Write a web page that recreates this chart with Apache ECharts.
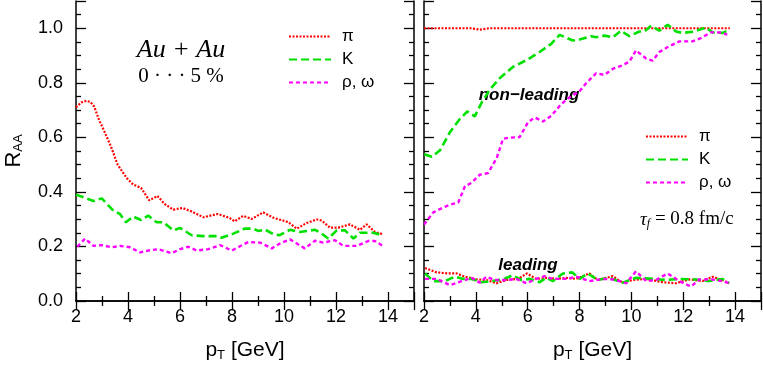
<html>
<head>
<meta http-equiv="Content-Type" content="text/html; charset=utf-8"/>
<title>RAA</title>
<style type="text/css">
    body, #chart { margin: 0; padding: 0; border: 0; }
    #chart { width: 763px; height: 367px; background: #fff; }
</style>
<script type="text/javascript" src="https://cdn.jsdelivr.net/npm/echarts@6/dist/echarts.min.js"></script>
</head>
<body>
<div id="chart"></div>
<script type="text/javascript">
// [pT, R_AA]
var leftPi = [[2.0,0.71],[2.2,0.728],[2.4,0.734],[2.55,0.73],[2.7,0.713],[2.9,0.661],[3.1,0.62],[3.35,0.565],[3.6,0.5],[3.95,0.451],[4.2,0.427],[4.5,0.415],[4.82,0.369],[5.13,0.385],[5.42,0.355],[5.74,0.335],[6.1,0.341],[6.45,0.328],[6.9,0.307],[7.45,0.319],[7.9,0.305],[8.1,0.292],[8.43,0.312],[8.76,0.301],[9.2,0.325],[9.6,0.305],[10.17,0.289],[10.49,0.265],[10.87,0.286],[11.26,0.299],[11.45,0.295],[11.77,0.269],[12.09,0.269],[12.54,0.281],[12.92,0.261],[13.18,0.281],[13.5,0.253],[13.8,0.245]];
var leftK = [[2.0,0.39],[2.35,0.378],[2.67,0.367],[2.99,0.376],[3.44,0.331],[3.69,0.319],[3.92,0.289],[4.2,0.31],[4.5,0.297],[4.78,0.313],[5.1,0.289],[5.36,0.289],[5.74,0.259],[6.0,0.268],[6.45,0.241],[6.9,0.238],[7.41,0.238],[7.6,0.232],[8.05,0.247],[8.5,0.266],[8.82,0.265],[9.01,0.257],[9.27,0.262],[9.59,0.245],[9.82,0.241],[10.23,0.261],[10.6,0.253],[11.2,0.261],[11.45,0.247],[11.7,0.229],[12.03,0.259],[12.35,0.259],[12.67,0.229],[12.92,0.25],[13.43,0.25],[13.8,0.241]];
var leftRho = [[2.05,0.199],[2.35,0.229],[2.67,0.202],[2.99,0.205],[3.37,0.197],[3.69,0.202],[4.08,0.197],[4.46,0.178],[4.78,0.185],[5.17,0.19],[5.68,0.175],[6.0,0.19],[6.32,0.199],[6.64,0.185],[7.09,0.19],[7.54,0.205],[7.99,0.185],[8.62,0.216],[9.08,0.214],[9.53,0.193],[9.85,0.211],[10.23,0.226],[10.8,0.193],[11.19,0.221],[11.51,0.214],[11.96,0.223],[12.28,0.202],[12.8,0.202],[13.24,0.22],[13.5,0.22],[13.8,0.202]];

var nlPi = [[2.0,1.0],[3.0,1.0],[3.8,1.0],[4.15,0.995],[4.5,1.0],[6.0,1.0],[8.0,1.0],[10.0,1.0],[12.0,1.0],[13.8,1.0]];
var nlK = [[2.01,0.538],[2.3,0.529],[2.62,0.553],[3.0,0.619],[3.38,0.667],[3.67,0.695],[3.96,0.677],[4.22,0.727],[4.54,0.775],[4.92,0.817],[5.44,0.859],[5.95,0.883],[6.46,0.913],[6.91,0.943],[7.23,0.976],[7.74,0.955],[8.0,0.959],[8.45,0.971],[8.64,0.967],[8.96,0.973],[9.28,0.967],[9.6,0.991],[9.92,0.971],[10.31,0.988],[10.5,0.988],[10.76,1.009],[11.08,0.991],[11.4,1.013],[11.72,0.988],[11.97,0.983],[12.42,0.988],[12.87,1.003],[13.13,0.985],[13.52,0.983],[13.7,0.991]];
var nlRho = [[2.0,0.28],[2.36,0.325],[2.74,0.343],[3.07,0.355],[3.32,0.361],[3.58,0.421],[3.83,0.433],[4.15,0.463],[4.47,0.469],[4.8,0.523],[5.05,0.595],[5.31,0.599],[5.69,0.601],[6.01,0.655],[6.27,0.673],[6.59,0.658],[6.91,0.679],[7.23,0.715],[7.49,0.739],[7.75,0.755],[8.0,0.769],[8.26,0.799],[8.64,0.835],[8.96,0.829],[9.28,0.851],[9.6,0.862],[9.92,0.877],[10.18,0.919],[10.57,0.889],[10.82,0.881],[11.08,0.913],[11.4,0.931],[11.85,0.952],[12.36,0.952],[12.68,0.964],[13.07,0.985],[13.38,0.985],[13.7,0.977]];

var ldPi = [[2.04,0.121],[2.49,0.105],[2.94,0.101],[3.26,0.101],[3.58,0.089],[4.03,0.079],[4.41,0.077],[4.8,0.065],[5.18,0.077],[5.63,0.081],[5.97,0.101],[6.33,0.081],[6.72,0.085],[7.1,0.081],[7.49,0.085],[7.87,0.081],[8.38,0.101],[8.7,0.077],[9.28,0.091],[9.67,0.067],[10.05,0.077],[10.57,0.081],[11.2,0.069],[11.72,0.065],[12.23,0.079],[12.74,0.073],[13.13,0.089],[13.51,0.077],[13.77,0.065]];
var ldK = [[2.04,0.101],[2.36,0.073],[2.81,0.073],[3.19,0.089],[3.51,0.081],[3.83,0.081],[4.22,0.069],[4.6,0.073],[5.05,0.079],[5.41,0.094],[5.76,0.077],[6.08,0.081],[6.46,0.069],[6.72,0.085],[6.97,0.073],[7.36,0.101],[7.72,0.105],[8.0,0.081],[8.32,0.101],[8.7,0.077],[9.15,0.085],[9.67,0.067],[10.18,0.085],[10.82,0.081],[11.33,0.077],[11.85,0.081],[12.49,0.079],[13.0,0.073],[13.51,0.081],[13.77,0.065]];
var ldRho = [[2.04,0.081],[2.49,0.081],[3.0,0.058],[3.45,0.073],[3.83,0.085],[4.15,0.067],[4.41,0.089],[4.73,0.077],[5.18,0.077],[5.56,0.081],[5.95,0.065],[6.33,0.081],[6.65,0.091],[6.97,0.081],[7.49,0.081],[7.87,0.089],[8.38,0.073],[8.9,0.081],[9.35,0.079],[9.8,0.065],[10.18,0.109],[10.57,0.073],[10.95,0.077],[11.4,0.101],[11.85,0.073],[12.3,0.053],[12.62,0.079],[13.13,0.079],[13.51,0.073],[13.77,0.065]];

var names = ['π', 'K', 'ρ, ω'];
var colors = ['#ff0000', '#00e000', '#ff00ff'];
var dashes = [[2, 1.5], [8, 4], [4, 3]];
var widths = [2.2, 2.6, 2.4];

var font = "'Liberation Sans', Arial, sans-serif";
var serif = "'Liberation Serif', 'DejaVu Serif', serif";

function xAxes(grid) {
    return [{
        gridIndex: grid, type: 'value', min: 2, max: 15, interval: 2, position: 'bottom',
        name: '{a|p}{s|T}{a| [GeV]}', nameLocation: 'middle', nameGap: 38,
        nameTextStyle: {rich: {
            a: {fontFamily: font, fontSize: 21, color: '#000'},
            s: {fontFamily: font, fontSize: 13, color: '#000', padding: [10, 0, 0, 0]}
        }},
        axisLine: {lineStyle: {color: '#000', width: 1.5}},
        axisTick: {inside: true, length: 9, lineStyle: {color: '#000', width: 1.3}},
        minorTick: {show: true, splitNumber: 2, length: 5, lineStyle: {color: '#000', width: 1.3}},
        axisLabel: {fontFamily: font, fontSize: 18, color: '#000', margin: 7, showMaxLabel: false},
        splitLine: {show: false}
    }, {
        gridIndex: grid, type: 'value', min: 2, max: 15, interval: 2, position: 'top',
        axisLine: {lineStyle: {color: '#000', width: 1.5}},
        axisTick: {inside: true, length: 9, lineStyle: {color: '#000', width: 1.3}},
        minorTick: {show: true, splitNumber: 2, length: 5, lineStyle: {color: '#000', width: 1.3}},
        axisLabel: {show: false}, splitLine: {show: false}
    }];
}
function yAxes(grid, labels) {
    var a = {
        gridIndex: grid, type: 'value', min: 0, max: 1.1, interval: 0.2, position: 'left',
        axisLine: {lineStyle: {color: '#000', width: 1.5}},
        axisTick: {inside: true, length: 10, lineStyle: {color: '#000', width: 1.3}},
        minorTick: {show: true, splitNumber: 4, length: 5, lineStyle: {color: '#000', width: 1.3}},
        axisLabel: {show: labels, fontFamily: font, fontSize: 18, color: '#000', margin: 13, showMaxLabel: false,
            formatter: function (v) { return v.toFixed(1); }},
        splitLine: {show: false}
    };
    if (labels) {
        a.name = '{a|R}{s|AA}';
        a.nameLocation = 'middle';
        a.nameGap = 51;
        a.nameTextStyle = {rich: {
            a: {fontFamily: font, fontSize: 22, color: '#000'},
            s: {fontFamily: font, fontSize: 13, color: '#000', padding: [10, 0, 0, 0]}
        }};
    }
    var b = {
        gridIndex: grid, type: 'value', min: 0, max: 1.1, interval: 0.2, position: 'right',
        axisLine: {lineStyle: {color: '#000', width: 1.5}},
        axisTick: {inside: true, length: 10, lineStyle: {color: '#000', width: 1.3}},
        minorTick: {show: true, splitNumber: 4, length: 5, lineStyle: {color: '#000', width: 1.3}},
        axisLabel: {show: false}, splitLine: {show: false}
    };
    return [a, b];
}

function line(name, i, data, xi, yi) {
    return {
        name: name, type: 'line', data: data, xAxisIndex: xi, yAxisIndex: yi,
        showSymbol: false, symbol: 'none', smooth: false, silent: true,
        lineStyle: {color: colors[i], width: widths[i], type: dashes[i]},
        itemStyle: {color: colors[i]}
    };
}

var series = [
    line(names[0], 0, leftPi, 0, 0),
    line(names[1], 1, leftK, 0, 0),
    line(names[2], 2, leftRho, 0, 0),
    line(names[0], 0, nlPi, 2, 2),
    line(names[1], 1, nlK, 2, 2),
    line(names[2], 2, nlRho, 2, 2),
    line(names[0], 0, ldPi, 2, 2),
    line(names[1], 1, ldK, 2, 2),
    line(names[2], 2, ldRho, 2, 2)
];

var legendBase = {
    orient: 'vertical', data: names, itemWidth: 42, itemHeight: 14, itemGap: 6,
    selectedMode: false,
    itemStyle: {opacity: 0},
    textStyle: {fontFamily: font, fontSize: 17, color: '#000', padding: [0, 0, 0, 6]}
};

var chart = echarts.init(document.getElementById('chart'), null, {renderer: 'canvas'});
chart.setOption({
    animation: false,
    backgroundColor: '#fff',
    grid: [
        {left: 76, right: 349, top: 1, bottom: 62},
        {left: 424, right: 2, top: 1, bottom: 62}
    ],
    xAxis: xAxes(0).concat(xAxes(1)),
    yAxis: yAxes(0, true).concat(yAxes(1, false)),
    legend: [
        Object.assign({left: 283, top: 23}, legendBase),
        Object.assign({left: 640, top: 123}, legendBase)
    ],
    series: series,
    graphic: [
        {type: 'text', x: 181, y: 50, style: {text: 'Au + Au', font: 'italic 26px ' + serif, fill: '#000', align: 'center', verticalAlign: 'middle'}},
        {type: 'text', x: 181, y: 76, style: {text: '0 · · · 5 %', font: '21px ' + serif, fill: '#000', align: 'center', verticalAlign: 'middle'}},
        {type: 'text', x: 529, y: 95, style: {text: 'non−leading', font: 'italic bold 17px ' + font, fill: '#000', align: 'center', verticalAlign: 'middle'}},
        {type: 'text', x: 528, y: 265, style: {text: 'leading', font: 'italic bold 17px ' + font, fill: '#000', align: 'center', verticalAlign: 'middle'}},
        {type: 'text', x: 640, y: 209, style: {
            text: '{i|τ}{s|f}{n| = 0.8 fm/c}',
            rich: {
                i: {fontFamily: serif, fontStyle: 'italic', fontSize: 19, fill: '#000'},
                s: {fontFamily: serif, fontStyle: 'italic', fontSize: 12, fill: '#000', padding: [9, 0, 0, 0]},
                n: {fontFamily: serif, fontSize: 19, fill: '#000'}
            }
        }}
    ]
});
</script>
</body>
</html>
